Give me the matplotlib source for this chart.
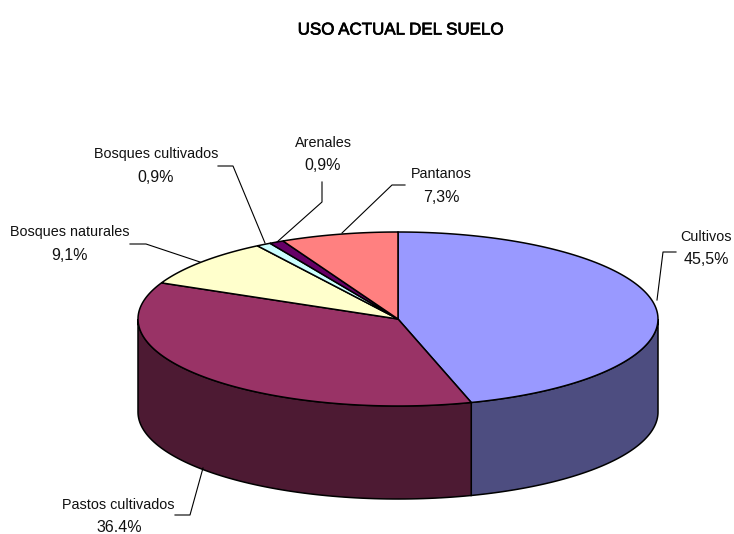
import numpy as np
import matplotlib
matplotlib.use("Agg")
import matplotlib.pyplot as plt
import matplotlib.patheffects as pe
from matplotlib.patches import Polygon

title = "USO ACTUAL DEL SUELO"
categories = ["Cultivos", "Pastos cultivados", "Bosques naturales", "Bosques cultivados", "Arenales", "Pantanos"]
values = [45.5, 36.4, 9.1, 0.9, 0.9, 7.3]
value_labels = ["45,5%", "36.4%", "9,1%", "0,9%", "0,9%", "7,3%"]
top_colors = ["#9999FF", "#993366", "#FFFFCC", "#CCFFFF", "#660066", "#FF8080"]
side_colors = ["#4D4D80", "#4D1A33", "#80805F", "#668080", "#330033", "#804040"]

cx, cy, rx, ry, depth = 398, 319, 260, 87, 93
name_pos = [(706, 237), (118, 505), (70, 232), (156, 154), (323, 143), (441, 174)]
value_pos = [(706, 259), (119, 528), (70, 255), (156, 177), (323, 166), (441, 198)]
leaders = [[(657, 300), (663, 252), (676, 252)],
           [(203, 468), (190, 515), (175, 515)],
           [(200, 262), (146, 244), (130, 244)],
           [(265, 243), (233, 166), (218, 166)],
           [(277, 242), (322, 202), (322, 182)],
           [(342, 233), (392, 185), (405, 185)]]

plt.rcParams["font.family"] = ["Liberation Sans", "DejaVu Sans"]
fig = plt.figure(figsize=(7.34, 5.34), dpi=100)
ax = fig.add_axes([0, 0, 1, 1])
ax.set_xlim(0, 734)
ax.set_ylim(534, 0)
ax.axis("off")


def pt(a):
    return cx + rx * np.cos(a), cy - ry * np.sin(a)


edges = np.radians(90 - np.concatenate([[0], np.cumsum(values)]) * 360 / sum(values))

# side walls: only the front half of the rim is visible
for i in range(len(values)):
    hi = min(edges[i], 0)
    lo = max(edges[i + 1], -np.pi)
    if hi <= lo:
        continue
    t = np.linspace(hi, lo, 80)
    x, y = pt(t)
    poly = np.r_[np.c_[x, y], np.c_[x[::-1], y[::-1] + depth]]
    ax.add_patch(Polygon(poly, closed=True, fc=side_colors[i], ec="black", lw=1.1))

# top face
for i in range(len(values)):
    t = np.linspace(edges[i], edges[i + 1], 120)
    x, y = pt(t)
    poly = np.r_[[[cx, cy]], np.c_[x, y]]
    ax.add_patch(Polygon(poly, closed=True, fc=top_colors[i], ec="black", lw=1.1))

for pts in leaders:
    p = np.array(pts)
    ax.plot(p[:, 0], p[:, 1], color="black", lw=0.8)

for name, val, np_, vp in zip(categories, value_labels, name_pos, value_pos):
    ax.text(np_[0], np_[1], name, ha="center", va="center", fontsize=10.4, color="#111111")
    ax.text(vp[0], vp[1], val, ha="center", va="center", fontsize=11.5, color="#111111")

ax.text(400, 30, title, ha="center", va="center", fontsize=12.2,
        path_effects=[pe.withStroke(linewidth=0.5, foreground="black")])
fig.savefig("out.png", dpi=100, facecolor="white")
